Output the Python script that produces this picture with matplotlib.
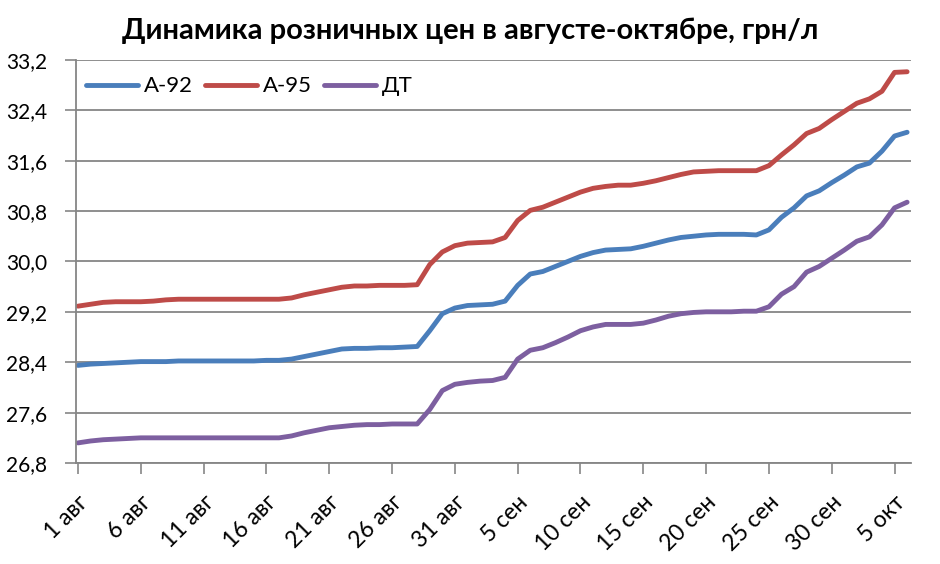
import matplotlib
matplotlib.use("Agg")
import matplotlib.pyplot as plt
from matplotlib.ticker import FuncFormatter
from matplotlib.transforms import ScaledTranslation

# дни от 1 августа (0) до 6 октября (66)
days = list(range(0, 67))

a92 = [28.35, 28.37, 28.38, 28.39, 28.40, 28.41, 28.41, 28.41, 28.42, 28.42,
       28.42, 28.42, 28.42, 28.42, 28.42, 28.43, 28.43, 28.45, 28.49, 28.53,
       28.57, 28.61, 28.62, 28.62, 28.63, 28.63, 28.64, 28.65, 28.90, 29.17,
       29.26, 29.30, 29.31, 29.32, 29.37, 29.62, 29.80, 29.84, 29.92, 30.00,
       30.08, 30.14, 30.18, 30.19, 30.20, 30.24, 30.29, 30.34, 30.38, 30.40,
       30.42, 30.43, 30.43, 30.43, 30.42, 30.50, 30.70, 30.85, 31.04, 31.12,
       31.25, 31.37, 31.50, 31.56, 31.75, 31.99, 32.05]

a95 = [29.29, 29.32, 29.35, 29.36, 29.36, 29.36, 29.37, 29.39, 29.40, 29.40,
       29.40, 29.40, 29.40, 29.40, 29.40, 29.40, 29.40, 29.42, 29.47, 29.51,
       29.55, 29.59, 29.61, 29.61, 29.62, 29.62, 29.62, 29.63, 29.95, 30.15,
       30.25, 30.29, 30.30, 30.31, 30.38, 30.65, 30.81, 30.86, 30.94, 31.02,
       31.10, 31.16, 31.19, 31.21, 31.21, 31.24, 31.28, 31.33, 31.38, 31.42,
       31.43, 31.44, 31.44, 31.44, 31.44, 31.52, 31.69, 31.85, 32.03, 32.11,
       32.25, 32.38, 32.51, 32.58, 32.70, 33.00, 33.01]

dt = [27.12, 27.15, 27.17, 27.18, 27.19, 27.20, 27.20, 27.20, 27.20, 27.20,
      27.20, 27.20, 27.20, 27.20, 27.20, 27.20, 27.20, 27.23, 27.28, 27.32,
      27.36, 27.38, 27.40, 27.41, 27.41, 27.42, 27.42, 27.42, 27.65, 27.95,
      28.05, 28.08, 28.10, 28.11, 28.16, 28.45, 28.59, 28.63, 28.71, 28.80,
      28.90, 28.96, 29.00, 29.00, 29.00, 29.02, 29.07, 29.13, 29.17, 29.19,
      29.20, 29.20, 29.20, 29.21, 29.21, 29.28, 29.48, 29.60, 29.83, 29.92,
      30.05, 30.18, 30.32, 30.39, 30.58, 30.85, 30.94]

tick_days = list(range(0, 66, 5))
tick_labels = ["1 авг", "6 авг", "11 авг", "16 авг", "21 авг", "26 авг", "31 авг",
               "5 сен", "10 сен", "15 сен", "20 сен", "25 сен", "30 сен", "5 окт"]

plt.rcParams["font.family"] = ["Lato", "DejaVu Sans"]

fig = plt.figure(figsize=(9.4, 5.64), dpi=100)
ax = fig.add_axes([0.081, 0.179, 0.888, 0.715])

ax.plot(days, a92, color="#4A7EBB", lw=3.5, label="А-92", solid_capstyle="round")
ax.plot(days, a95, color="#BE4B48", lw=3.5, label="А-95", solid_capstyle="round")
ax.plot(days, dt, color="#7D5FA0", lw=3.5, label="ДТ", solid_capstyle="round")

ax.set_ylim(26.8, 33.2)
ax.set_yticks([26.8 + 0.8 * i for i in range(9)])
ax.yaxis.set_major_formatter(FuncFormatter(lambda v, p: f"{v:.1f}".replace(".", ",")))
ax.set_xlim(-0.15, 66.3)
ax.set_xticks(tick_days)
ax.set_xticklabels([])
# подписи дат повернуты на 45 и сдвинуты, как в Excel
lab_tr = ax.get_xaxis_transform() + ScaledTranslation(7 / 100, -36 / 100, fig.dpi_scale_trans)
for d, t in zip(tick_days, tick_labels):
    ax.text(d, 0, t, transform=lab_tr, rotation=45, rotation_mode="anchor",
            ha="right", va="center", fontsize=16.5)
for lab in ax.get_yticklabels():
    lab.set_fontsize(15)

ax.grid(axis="y", color="#868686", lw=1.3)
ax.set_axisbelow(True)
for s in ["top", "right"]:
    ax.spines[s].set_visible(False)
for s in ["left", "bottom"]:
    ax.spines[s].set_color("#868686")
    ax.spines[s].set_linewidth(1.3)
ax.tick_params(axis="x", colors="#868686", length=8, width=1.2)
ax.tick_params(axis="y", colors="#868686", length=8, width=1.2, labelcolor="black", pad=13)

ax.legend(loc="center left", ncol=3, frameon=False, fontsize=16,
          handlelength=2.35, handletextpad=0.25, columnspacing=0.55,
          bbox_to_anchor=(-0.012, 0.934))

fig.text(0.5, 0.945, "Динамика розничных цен в августе-октябре, грн/л",
         fontsize=21, fontweight="bold", ha="center", va="center")

fig.savefig("out.png", dpi=100)
